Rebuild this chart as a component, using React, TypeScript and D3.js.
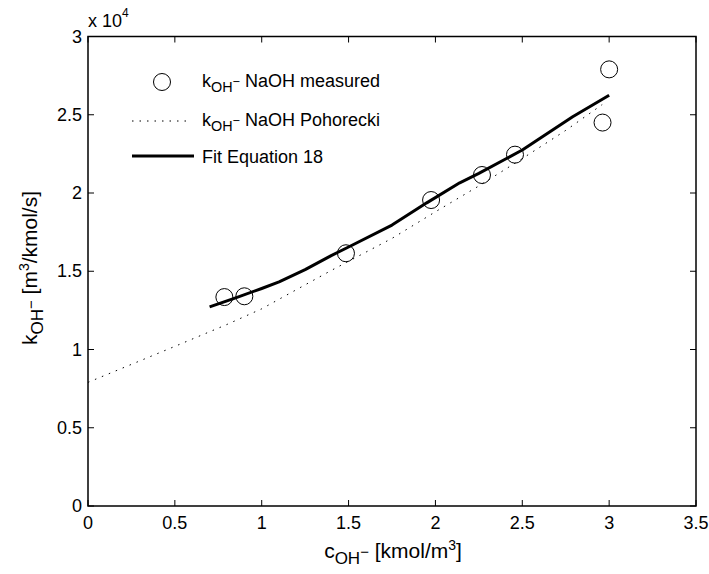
import React from "react";
import * as d3 from "d3";

const measuredX = [0.785, 0.9, 1.485, 1.975, 2.268, 2.458, 2.962, 3.0];
const measuredY = [13350, 13400, 16150, 19550, 21150, 22450, 24500, 27900];

const fitX = [0.7, 0.85, 1.0, 1.1, 1.25, 1.4, 1.5, 1.75, 1.95, 2.14, 2.25, 2.5, 2.79, 3.0];
const fitY = [12720, 13300, 13900, 14320, 15100, 16000, 16550, 17950, 19370, 20650, 21250, 22750, 24870, 26250];

const pohX = [0, 0.25, 0.5, 0.8, 1.0, 1.4, 1.75, 2.0, 2.25, 2.5, 2.75, 2.96];
const pohY = [7900, 9050, 10200, 11600, 12600, 15050, 17100, 18800, 20450, 22200, 24000, 25650];

const xTicks = [0, 0.5, 1, 1.5, 2, 2.5, 3, 3.5];
const yTicks = [0, 5000, 10000, 15000, 20000, 25000, 30000];
const yTickLabels = ["0", "0.5", "1", "1.5", "2", "2.5", "3"];

const W = 709;
const H = 574;
const M = { left: 88, right: 696, top: 36.5, bottom: 506 };
const FONT = "'Liberation Sans', Arial, Helvetica, sans-serif";

export default function App() {
  const x = d3.scaleLinear().domain([0, 3.5]).range([M.left, M.right]);
  const y = d3.scaleLinear().domain([0, 30000]).range([M.bottom, M.top]);
  const line = d3
    .line<[number, number]>()
    .x((d) => x(d[0]))
    .y((d) => y(d[1]));
  const fitPts: [number, number][] = fitX.map((v, i) => [v, fitY[i]]);
  const pohPts: [number, number][] = pohX.map((v, i) => [v, pohY[i]]);
  const tl = 6;

  const kLabel = (size: number) => [
    <tspan key="k">k</tspan>,
    <tspan key="oh" dy={size * 0.28} fontSize={size * 0.8}>OH</tspan>,
    <tspan key="m" dy={-size * 0.34} fontSize={size * 0.7}>−</tspan>,
  ];

  return (
    <svg
      width={W}
      height={H}
      style={{ position: "absolute", left: 0, top: 0, background: "#fff" }}
      fontFamily={FONT}
    >
      <rect x={0} y={0} width={W} height={H} fill="#fff" />
      <path
        d={line(pohPts) || ""}
        fill="none"
        stroke="#000"
        strokeWidth={1}
        strokeDasharray="1.5,6"
      />
      <path d={line(fitPts) || ""} fill="none" stroke="#000" strokeWidth={3} strokeLinejoin="round" />
      {measuredX.map((v, i) => (
        <circle key={i} cx={x(v)} cy={y(measuredY[i])} r={8.5} fill="none" stroke="#000" strokeWidth={1} />
      ))}

      <rect
        x={M.left}
        y={M.top}
        width={M.right - M.left}
        height={M.bottom - M.top}
        fill="none"
        stroke="#000"
        strokeWidth={1.5}
      />
      {xTicks.map((t) => (
        <g key={"x" + t}>
          <line x1={x(t)} x2={x(t)} y1={M.bottom} y2={M.bottom - tl} stroke="#000" />
          <line x1={x(t)} x2={x(t)} y1={M.top} y2={M.top + tl} stroke="#000" />
          <text x={x(t)} y={M.bottom + 23} fontSize={18} textAnchor="middle">
            {String(t)}
          </text>
        </g>
      ))}
      {yTicks.map((t, i) => (
        <g key={"y" + t}>
          <line x1={M.left} x2={M.left + tl} y1={y(t)} y2={y(t)} stroke="#000" />
          <line x1={M.right} x2={M.right - tl} y1={y(t)} y2={y(t)} stroke="#000" />
          <text x={M.left - 6} y={y(t) + 6} fontSize={18} textAnchor="end">
            {yTickLabels[i]}
          </text>
        </g>
      ))}
      <text x={M.left} y={27} fontSize={18}>
        x 10<tspan dy={-10} fontSize={12}>4</tspan>
      </text>

      <text x={393} y={558} fontSize={21} textAnchor="middle">
        <tspan>c</tspan>
        <tspan dy={6} fontSize={17}>OH</tspan>
        <tspan dy={-7} fontSize={15}>−</tspan>
        <tspan dy={1}> [kmol/m</tspan>
        <tspan dy={-8} fontSize={14}>3</tspan>
        <tspan dy={8}>]</tspan>
      </text>
      <text transform={`translate(37,268) rotate(-90)`} fontSize={21} textAnchor="middle">
        <tspan>k</tspan>
        <tspan dy={6} fontSize={17}>OH</tspan>
        <tspan dy={-7} fontSize={15}>−</tspan>
        <tspan dy={1}> [m</tspan>
        <tspan dy={-8} fontSize={14}>3</tspan>
        <tspan dy={8}>/kmol/s]</tspan>
      </text>

      <circle cx={162} cy={82} r={8.5} fill="none" stroke="#000" />
      <text x={202} y={87} fontSize={18}>
        {kLabel(18)}
        <tspan dy={18 * 0.06}> NaOH measured</tspan>
      </text>
      <line x1={132} x2={192} y1={121} y2={121} stroke="#000" strokeDasharray="1.5,6" />
      <text x={202} y={126} fontSize={18}>
        {kLabel(18)}
        <tspan dy={18 * 0.06}> NaOH Pohorecki</tspan>
      </text>
      <line x1={132} x2={194} y1={156} y2={156} stroke="#000" strokeWidth={3} />
      <text x={202} y={163} fontSize={18}>Fit Equation 18</text>
    </svg>
  );
}
